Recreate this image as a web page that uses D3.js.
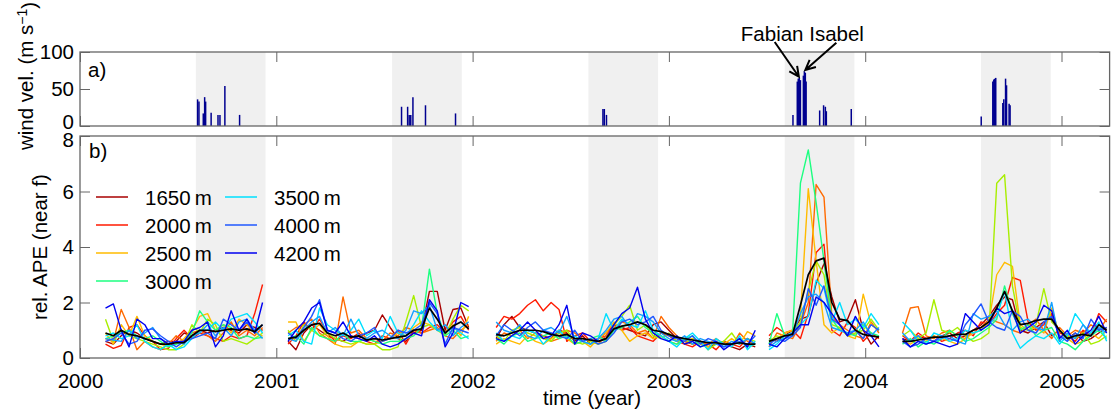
<!DOCTYPE html>
<html>
<head>
<meta charset="utf-8">
<script src="https://cdn.jsdelivr.net/npm/d3@7"></script>
<style>
  body { margin: 0; background: #fff; }
  text { font-family: "Liberation Sans", Arial, Helvetica, sans-serif; }
</style>
</head>
<body>
<svg id="chart" width="1115" height="411"></svg>
<script>
// ---- data ----
// record pieces: start time (year) of each piece, sampled every `step` years
var segStart = [2000.13, 2001.06, 2002.12, 2003.51, 2004.19];
var step = 0.04;

// hurricane season shading (year fractions)
var seasonStart = [2000.59, 2001.59, 2002.59, 2003.59, 2004.59];
var seasonEnd   = [2000.945, 2001.945, 2002.945, 2003.945, 2004.945];

// wind velocity events (panel a)
var windTime = [2000.599, 2000.606, 2000.628, 2000.635, 2000.640, 2000.668, 2000.703, 2000.713, 2000.738, 2000.813,
  2001.638, 2001.669, 2001.677, 2001.685, 2001.696, 2001.760, 2001.913,
  2002.664, 2002.671, 2002.682,
  2003.632, 2003.654, 2003.659, 2003.664, 2003.670, 2003.685, 2003.690, 2003.695, 2003.699,
  2003.768, 2003.788, 2003.797, 2003.802, 2003.929,
  2004.591, 2004.650, 2004.655, 2004.660, 2004.665, 2004.701, 2004.706, 2004.715, 2004.720, 2004.733, 2004.738];
var windSpeed = [36, 33, 17, 39, 33, 18, 15, 15, 54, 15,
  26, 26, 15, 15, 39, 28, 17,
  23, 23, 15,
  15, 60, 64, 65, 62, 68, 74, 72, 60,
  21, 28, 26, 20, 23,
  13, 60, 63, 64, 65, 31, 36, 64, 55, 30, 28];

// relative APE near f, one array per record piece
var ape1650 = [
  [0.6,0.5,0.8,1.0,0.9,0.7,0.6,0.5,0.6,0.6,0.9,0.8,1.0,0.9,1.0,1.1,1.0,0.9,1.2,1.1,1.0],
  [0.6,0.3,0.9,1.2,1.0,0.8,0.7,0.6,0.8,0.7,0.9,1.0,1.55,1.1,0.7,0.6,0.9,1.0,2.4,2.4,1.0,1.75,1.8,1.1],
  [0.7,1.2,1.5,1.1,1.0,0.9,0.8,0.7,1.0,0.9,0.6,0.8,0.5,0.7,0.9,1.2,1.1,1.0,0.9,0.8,1.2,1.3,1.0,0.7,0.6,0.5,0.6,0.4,0.5,0.6,0.4,0.3,0.5,0.4],
  [0.7,0.6,0.8,1.0,1.4,1.5,2.7,3.4,2.2,1.3,1.4,2.1,1.0,0.5,0.8],
  [0.7,0.6,0.8,0.7,0.6,0.8,0.9,0.7,0.8,1.0,1.2,1.5,1.9,2.2,2.1,1.0,0.9,1.1,1.3,0.8,1.0,0.7,0.9,0.6,0.7,0.9,1.1]
];
var ape2000 = [
  [0.5,0.35,0.45,1.1,1.2,0.8,0.6,0.3,0.35,0.7,1.0,0.7,0.9,0.8,0.7,0.6,0.8,0.7,0.8,1.6,2.65],
  [0.5,0.8,1.3,1.0,1.4,0.9,0.6,0.8,0.7,0.9,0.6,0.5,0.8,0.7,1.0,0.5,1.0,0.9,1.1,1.2,0.9,1.3,1.5,1.0],
  [1.1,1.5,1.4,1.6,1.9,2.1,1.7,2.0,1.75,0.6,0.8,0.9,0.6,0.7,0.8,1.2,1.0,1.1,0.8,0.7,0.6,0.9,0.8,0.6,0.5,0.4,0.6,0.5,0.3,0.6,0.5,0.4,0.7,0.5],
  [0.8,1.1,0.9,1.0,0.7,1.6,3.8,4.1,1.0,0.8,1.3,1.1,0.6,0.9,0.7],
  [0.8,0.6,0.9,0.7,0.8,0.6,0.7,0.9,1.0,0.8,1.3,1.2,1.6,1.9,2.9,2.8,1.3,1.0,1.2,1.6,0.9,0.8,0.6,1.0,0.8,1.6,1.3]
];
var ape2250 = [
  [0.7,0.6,1.75,1.1,0.3,0.6,0.4,0.3,0.5,0.8,0.6,0.9,1.0,0.8,0.6,0.9,1.3,0.8,1.0,0.8,1.1],
  [0.9,1.1,1.2,1.4,0.9,0.7,0.5,2.2,0.9,1.0,0.7,0.6,0.6,0.9,0.8,1.1,1.0,0.9,1.0,1.1,0.8,0.7,1.0,1.2],
  [0.6,0.9,0.8,1.0,0.7,0.9,0.8,0.6,0.7,1.0,0.9,0.7,0.6,0.5,0.8,1.1,1.3,1.2,0.9,1.0,0.7,1.5,1.1,0.8,0.5,0.7,0.6,0.5,0.7,0.5,0.4,0.9,0.6,0.5],
  [0.4,0.9,0.8,0.7,1.2,2.0,6.25,5.8,1.5,1.2,1.0,0.8,0.7,1.3,0.9],
  [0.9,1.8,1.85,0.8,0.7,0.9,1.0,0.8,0.7,1.0,1.1,1.4,1.3,1.2,1.0,0.9,1.2,1.4,1.0,0.7,1.1,0.8,1.0,0.9,1.2,1.0,1.4]
];
var ape2500 = [
  [0.9,0.5,1.2,0.8,1.5,0.8,0.6,0.5,0.4,0.5,0.7,1.0,1.5,1.6,1.0,1.2,0.9,1.4,1.2,0.9,0.8],
  [1.3,1.3,0.6,1.0,1.2,0.8,0.5,0.4,0.4,0.6,0.5,0.5,0.6,0.7,0.9,0.8,1.1,1.3,1.2,1.0,0.9,1.2,0.8,1.5],
  [0.5,0.7,0.6,0.5,0.8,0.6,0.5,0.7,0.9,0.7,0.5,0.6,0.4,0.7,0.9,1.3,1.0,0.6,0.8,0.9,0.7,0.8,0.6,0.5,0.6,0.7,0.5,0.4,0.6,0.5,0.7,0.5,0.95,0.8],
  [0.6,0.7,0.9,1.0,1.5,6.1,3.5,1.2,0.9,1.1,0.8,0.7,2.3,1.2,1.0],
  [0.6,0.5,0.7,0.6,0.8,0.7,0.6,0.5,0.7,0.9,1.0,1.3,3.0,3.45,3.3,1.2,1.0,1.1,0.9,1.8,0.8,0.7,0.5,0.6,0.9,0.7,1.0]
];
var ape2750 = [
  [1.4,0.6,1.0,0.8,0.7,0.6,0.5,0.4,0.3,0.3,0.5,1.2,0.9,1.4,1.2,0.6,0.7,0.6,0.5,0.7,0.9],
  [1.0,0.6,1.2,1.0,0.8,0.9,0.7,0.6,0.5,0.6,0.5,0.5,0.3,0.3,0.4,1.3,2.25,1.1,1.2,1.0,0.8,1.4,1.9,1.7],
  [0.8,0.6,1.0,1.1,0.9,0.8,0.7,0.6,0.9,1.0,0.6,0.5,0.6,0.5,0.6,1.2,1.5,1.9,1.0,1.2,0.8,0.7,0.9,0.6,0.7,0.5,0.6,0.3,0.5,0.6,0.9,0.5,0.7,0.6],
  [0.6,0.8,0.7,0.9,1.3,2.4,3.5,3.0,1.2,1.1,0.8,0.9,1.0,1.4,1.0],
  [0.8,1.0,0.7,0.9,2.1,1.0,0.9,1.1,0.8,0.6,0.7,0.9,6.3,6.6,2.6,1.1,1.0,1.2,2.5,1.3,1.0,0.8,0.7,0.9,0.5,0.6,0.8]
];
var ape3000 = [
  [0.7,0.8,0.9,1.0,0.8,0.7,0.8,0.6,0.4,0.5,0.6,0.9,1.7,1.3,1.0,1.2,1.1,0.7,0.8,0.7,0.75],
  [0.7,0.8,0.5,1.1,0.8,0.7,0.6,0.9,0.6,0.6,0.7,0.6,0.5,0.6,0.6,0.7,0.8,1.1,3.2,1.6,0.8,1.0,0.7,0.8],
  [0.7,0.5,0.8,0.9,0.6,0.7,0.8,0.9,0.7,0.8,0.5,0.6,0.7,0.8,0.6,1.0,1.1,1.3,1.5,1.1,0.9,0.8,0.6,0.5,0.7,0.8,0.4,0.5,0.6,0.4,0.5,0.7,0.4,0.5],
  [0.5,1.6,0.8,0.9,6.3,7.5,5.6,3.5,1.4,1.0,0.9,0.8,1.2,0.9,0.8],
  [0.5,0.7,0.4,0.6,0.5,0.7,1.0,0.8,0.6,0.7,0.9,1.1,1.4,2.6,1.6,1.0,1.2,0.8,1.0,1.1,0.6,0.5,0.3,0.6,0.8,1.0,0.7]
];
var ape3500 = [
  [0.8,0.9,0.7,0.8,1.2,0.6,0.4,0.3,0.5,0.3,0.4,0.7,1.0,1.0,1.3,1.0,1.4,1.5,1.6,1.3,0.9],
  [0.8,1.0,0.6,0.5,1.8,1.2,1.0,0.8,1.0,1.4,0.8,1.0,0.7,1.5,0.9,0.8,1.2,1.7,1.3,1.0,0.9,1.1,0.9,0.7],
  [0.9,0.6,0.8,0.7,1.0,0.9,0.5,0.8,1.0,0.7,0.8,0.6,0.5,0.7,1.6,1.0,1.4,1.2,1.1,1.7,1.0,0.8,0.6,0.4,0.7,0.9,0.6,0.3,0.7,0.5,0.4,0.8,0.3,0.6],
  [0.3,0.5,0.8,0.9,1.2,1.5,2.8,2.5,1.3,2.0,1.2,1.4,1.1,1.6,1.2],
  [1.3,1.0,0.6,0.5,0.9,0.8,0.6,0.7,1.0,0.9,1.0,1.2,1.5,2.4,0.9,0.35,0.6,0.8,0.7,0.9,0.5,0.8,1.6,1.2,0.9,1.3,0.6]
];
var ape3750 = [
  [0.7,0.65,0.6,1.0,0.7,0.9,1.1,0.7,0.5,0.6,0.5,0.8,0.9,1.2,0.8,1.1,0.8,1.3,1.4,1.0,0.7],
  [0.7,0.6,1.0,1.3,1.5,0.9,1.1,0.8,1.4,0.8,0.7,0.9,1.0,0.8,0.7,1.0,1.7,1.6,1.9,1.0,1.2,0.8,1.1,1.3],
  [1.3,1.0,0.9,1.2,0.8,0.7,1.0,1.1,0.9,1.5,0.7,0.6,0.5,0.7,1.0,1.4,1.5,1.1,1.6,1.5,1.3,0.9,0.7,0.6,0.8,0.5,0.7,0.6,0.5,0.4,0.6,0.5,0.7,0.5],
  [0.4,0.6,0.7,0.8,1.6,2.2,2.3,2.0,1.1,1.0,0.9,1.0,1.3,0.8,1.1],
  [0.9,0.6,0.8,0.5,0.6,0.7,0.8,0.6,0.5,1.6,1.4,1.5,1.7,1.2,1.0,1.3,1.4,1.1,1.0,2.0,0.6,0.9,0.7,1.2,0.8,1.1,0.9]
];
var ape4000 = [
  [0.6,0.7,0.9,0.5,0.6,1.0,1.05,0.8,0.6,0.4,0.6,0.7,0.8,0.9,0.7,1.4,1.2,1.0,1.3,0.9,1.2],
  [0.9,0.7,1.1,1.5,2.1,1.0,0.9,0.7,0.6,0.8,0.9,1.1,0.6,0.7,1.0,0.9,1.0,1.2,2.0,1.6,0.5,1.1,1.0,0.9],
  [0.8,1.2,1.0,0.8,1.1,1.3,1.0,0.9,0.8,0.7,1.0,0.6,0.7,0.5,0.6,0.9,1.3,1.4,1.2,1.3,1.5,1.0,0.8,0.7,0.6,0.8,0.5,0.7,0.6,0.4,0.5,0.6,0.5,0.8],
  [0.5,0.7,0.6,0.8,1.1,2.5,1.9,2.6,1.4,1.2,0.8,1.0,0.7,1.2,1.0],
  [0.6,0.4,0.5,0.7,0.6,0.8,0.7,0.6,1.2,1.55,1.95,1.3,1.1,1.0,1.7,1.5,1.0,0.9,1.3,1.5,0.8,0.6,0.9,0.7,1.4,1.0,1.1]
];
var ape4200 = [
  [1.8,1.95,1.0,0.4,1.4,1.2,0.7,0.7,0.5,0.6,0.6,1.0,1.1,1.3,0.4,0.8,1.7,1.0,1.4,0.9,2.0],
  [0.6,1.0,1.3,1.8,2.0,1.0,0.9,1.3,0.8,0.7,0.6,0.8,0.5,0.4,0.5,0.7,0.9,0.8,2.1,1.7,0.4,0.9,2.0,1.85],
  [0.7,0.6,0.8,1.0,1.3,1.0,0.7,0.8,1.2,1.9,0.5,0.9,0.8,0.6,0.7,1.2,1.6,1.8,2.55,1.4,0.9,0.7,0.6,0.8,0.5,0.6,0.4,0.5,0.6,0.3,0.5,0.7,0.4,1.0],
  [0.5,0.4,0.7,0.9,1.2,1.2,2.2,2.0,1.6,1.2,0.8,1.5,1.0,0.8,0.4],
  [0.7,0.4,0.6,0.5,0.6,0.5,0.4,0.5,1.6,1.3,1.0,1.2,1.8,1.6,1.7,0.9,1.1,1.3,1.9,1.7,0.7,1.0,0.5,0.8,1.0,1.5,0.9]
];
var apeMean = [
  [0.9,0.8,1.0,0.85,0.8,0.7,0.6,0.5,0.5,0.55,0.55,0.8,1.0,1.0,0.95,1.0,1.05,1.0,1.05,0.95,1.2],
  [0.7,0.75,1.0,1.2,1.25,0.9,0.8,0.9,0.75,0.8,0.65,0.7,0.65,0.7,0.75,0.8,1.0,1.05,1.8,1.4,0.9,1.15,1.3,1.05],
  [0.85,0.8,0.9,1.0,1.0,1.0,0.95,0.85,0.8,0.85,0.7,0.7,0.65,0.6,0.7,1.05,1.15,1.2,1.3,1.2,1.0,0.95,0.85,0.75,0.7,0.65,0.6,0.55,0.55,0.5,0.5,0.55,0.5,0.5],
  [0.6,0.7,0.8,0.85,1.9,3.0,3.5,3.6,2.0,1.4,1.35,1.0,0.85,0.8,0.75],
  [0.6,0.6,0.65,0.7,0.75,0.75,0.8,0.85,0.85,1.0,1.1,1.3,1.8,2.4,1.7,1.2,1.25,1.35,1.4,1.4,1.0,0.7,0.8,0.85,0.8,1.2,1.0]
];

var seriesNames  = ["1650 m", "2000 m", null, "2500 m", null, "3000 m", "3500 m", null, "4000 m", "4200 m"];
var seriesColors = ["#a80000", "#ff1a00", "#ff6a00", "#ffbb00", "#a8ee00", "#1cff80", "#00e0ff", "#14a0ff", "#2058ff", "#0000f0"];
var seriesData   = [ape1650, ape2000, ape2250, ape2500, ape2750, ape3000, ape3500, ape3750, ape4000, ape4200];

var yearTicks = [2000, 2001, 2002, 2003, 2004, 2005];
var windTicks = [0, 50, 100];
var apeTicks = [0, 2, 4, 6, 8];

// ---- drawing ----
var svg = d3.select("#chart");
var fs = 20.5;
var tickLen = 10;
var frameColor = "#666";

var x = d3.scaleLinear().domain([2000, 2005.245]).range([80, 1109.6]);
var ya = d3.scaleLinear().domain([0, 100]).range([126, 52]);
var yb = d3.scaleLinear().domain([0, 8]).range([358, 136]);

function panel(y, ticks, showX, nudge) {
  var g = svg.append("g");
  var top = y.range()[1], bot = y.range()[0];
  // season shading
  g.selectAll("rect.season").data(seasonStart).enter().append("rect")
    .attr("x", function(d) { return x(d); })
    .attr("width", function(d, i) { return x(seasonEnd[i]) - x(d); })
    .attr("y", top).attr("height", bot - top)
    .attr("fill", "#f0f0f0");

  var axes = [
    d3.axisBottom(x).tickValues(yearTicks).tickSize(-tickLen).tickPadding(15).tickFormat(d3.format("d")),
    d3.axisTop(x).tickValues(yearTicks).tickSize(-tickLen).tickFormat(""),
    d3.axisLeft(y).tickValues(ticks).tickSize(-tickLen).tickPadding(6).tickFormat(d3.format("d")),
    d3.axisRight(y).tickValues(ticks).tickSize(-tickLen).tickFormat("")
  ];
  var pos = ["translate(0," + bot + ")", "translate(0," + top + ")",
             "translate(" + x.range()[0] + ",0)", "translate(" + x.range()[1] + ",0)"];
  axes.forEach(function(ax, i) {
    var a = g.append("g").attr("transform", pos[i]).call(ax);
    a.select(".domain").remove();
    a.selectAll(".tick line").attr("stroke", frameColor).attr("stroke-width", 1);
    a.selectAll(".tick text").attr("fill", "#000").style("font-size", fs + "px");
    if (i === 0 && !showX) a.selectAll(".tick text").remove();
    if (i === 2) a.selectAll(".tick text").attr("y", function(d) { return nudge(d); });
  });
  return g;
}

// keep the touching "0" (panel a) and "8" (panel b) labels apart
var ga = panel(ya, windTicks, false, function(d) { return d === 0 ? -4 : 0; });
var gb = panel(yb, apeTicks, true, function(d) { return d === 8 ? 3.5 : 0; });

// wind stems
ga.selectAll("line.wind").data(windTime).enter().append("line")
  .attr("x1", function(d) { return x(d); }).attr("x2", function(d) { return x(d); })
  .attr("y1", ya(0)).attr("y2", function(d, i) { return ya(windSpeed[i]); })
  .attr("stroke", "#000090").attr("stroke-width", 1.5);

// APE lines
function toPoints(pieces) {
  return pieces.map(function(vals, k) {
    return vals.map(function(v, i) { return { t: segStart[k] + i * step, v: v }; });
  });
}
var line = d3.line().x(function(d) { return x(d.t); }).y(function(d) { return yb(d.v); });

seriesData.forEach(function(pieces, s) {
  gb.append("g").selectAll("path").data(toPoints(pieces)).enter().append("path")
    .attr("d", line).attr("fill", "none")
    .attr("stroke", seriesColors[s]).attr("stroke-width", 1.4)
    .attr("stroke-linejoin", "round");
});
gb.append("g").selectAll("path").data(toPoints(apeMean)).enter().append("path")
  .attr("d", line).attr("fill", "none")
  .attr("stroke", "#000").attr("stroke-width", 1.7).attr("stroke-linejoin", "round");

// frames
[ya, yb].forEach(function(y) {
  svg.append("rect")
    .attr("x", x.range()[0]).attr("y", y.range()[1])
    .attr("width", x.range()[1] - x.range()[0]).attr("height", y.range()[0] - y.range()[1])
    .attr("fill", "none").attr("stroke", frameColor).attr("stroke-width", 1.3);
});

// legend
var legendItems = [];
seriesNames.forEach(function(n, i) { if (n) legendItems.push({ name: n, color: seriesColors[i] }); });
var leg = svg.append("g");
legendItems.forEach(function(d, i) {
  var col = i < 4 ? 0 : 1, row = i < 4 ? i : i - 4;
  var lx = 96 + col * 129, ly = 197 + row * 28;
  leg.append("line").attr("x1", lx).attr("x2", lx + 32).attr("y1", ly).attr("y2", ly)
    .attr("stroke", d.color).attr("stroke-width", 1.5);
  leg.append("text").attr("x", lx + 49).attr("y", ly + 7.5)
    .style("font-size", fs + "px").text(d.name.replace(" ", "\u2009"));
});

// panel letters
svg.append("text").attr("x", 88).attr("y", 77).style("font-size", fs + "px").text("a)");
svg.append("text").attr("x", 89).attr("y", 158).style("font-size", fs + "px").text("b)");

// axis labels
var wl = svg.append("text").attr("transform", "translate(33,76) rotate(-90)")
  .attr("text-anchor", "middle").style("font-size", fs + "px");
wl.append("tspan").text("wind vel. (m s");
wl.append("tspan").attr("dy", "-0.45em").style("font-size", "14px").text("\u22121");
wl.append("tspan").attr("dy", "0.45em").text(")");

svg.append("text").attr("transform", "translate(47," + ((yb.range()[0] + yb.range()[1]) / 2) + ") rotate(-90)")
  .attr("text-anchor", "middle").style("font-size", fs + "px").text("rel. APE (near f)");

svg.append("text").attr("x", 592).attr("y", 405).attr("text-anchor", "middle")
  .style("font-size", fs + "px").text("time (year)");

// hurricane annotation
var storms = [
  { tailT: 2003.539, tailV: 113.5, tipT: 2003.662, tipV: 66.6 },
  { tailT: 2003.853, tailV: 112.6, tipT: 2003.695, tipV: 75.7 }
];
svg.append("text").attr("x", x(2003.68)).attr("y", ya(115.3)).attr("text-anchor", "middle")
  .style("font-size", fs + "px").text("Fabian Isabel");
storms.forEach(function(s) {
  var x0 = x(s.tailT), y0 = ya(s.tailV), x1 = x(s.tipT), y1 = ya(s.tipV);
  var ang = Math.atan2(y1 - y0, x1 - x0), L = 11, A = Math.PI / 7;
  var p = d3.path();
  p.moveTo(x0, y0); p.lineTo(x1, y1);
  p.moveTo(x1 - L * Math.cos(ang - A), y1 - L * Math.sin(ang - A));
  p.lineTo(x1, y1);
  p.lineTo(x1 - L * Math.cos(ang + A), y1 - L * Math.sin(ang + A));
  svg.append("path").attr("d", p.toString()).attr("fill", "none")
    .attr("stroke", "#000").attr("stroke-width", 2);
});
</script>
</body>
</html>
